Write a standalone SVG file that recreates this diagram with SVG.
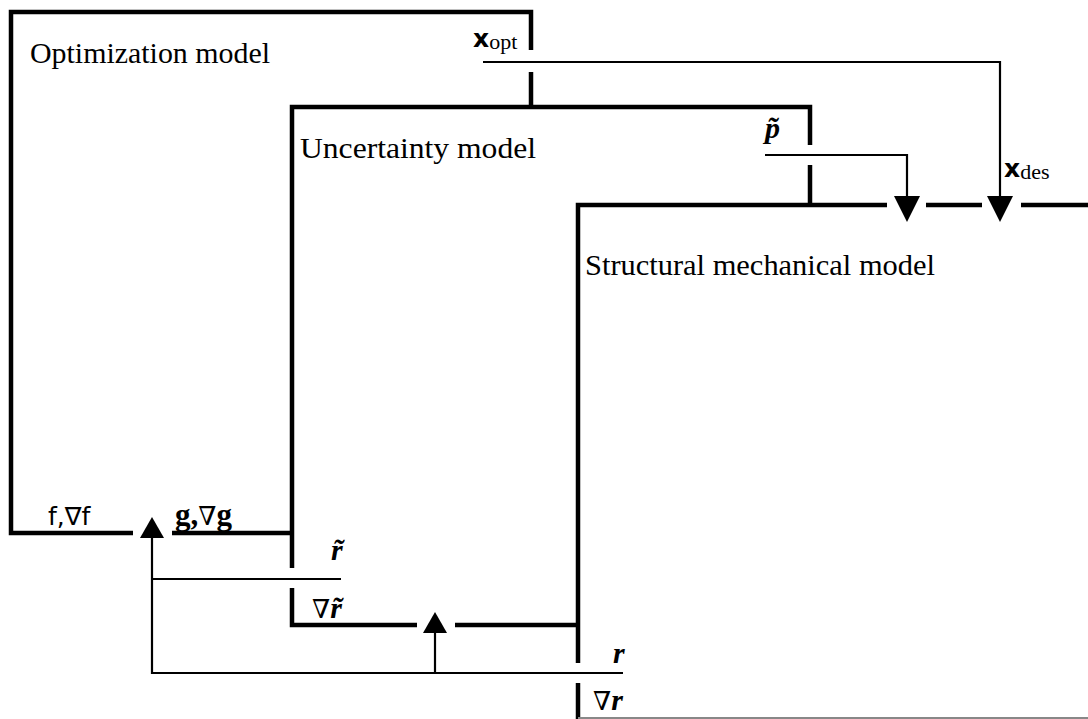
<svg xmlns="http://www.w3.org/2000/svg" width="1088" height="719" viewBox="0 0 1088 719">
  <style>
    .box { fill: none; stroke: #000; stroke-width: 4.5; stroke-linecap: butt; }
    .wire { fill: none; stroke: #000; stroke-width: 2.2; }
    .head { fill: #000; stroke: none; }
    .title { font-family: "Liberation Serif", serif; font-size: 29px; fill: #000; }
    .sym { font-family: "Liberation Serif", serif; font-size: 30px; font-weight: bold; font-style: italic; fill: #000; }
    .vec { font-family: "DejaVu Sans", sans-serif; font-size: 25px; font-weight: bold; fill: #000; }
    .sub { font-family: "Liberation Serif", serif; font-size: 22px; fill: #000; }
    .grad { font-family: "DejaVu Sans", sans-serif; font-size: 25px; font-weight: normal; fill: #000; }
    .gbold { font-family: "Liberation Serif", serif; font-size: 31px; font-weight: bold; fill: #000; }
    .nab { font-family: "DejaVu Serif", serif; font-size: 26px; fill: #000; }
  </style>

  <rect x="0" y="0" width="1088" height="719" fill="#fff"/>

  <!-- Optimization model -->
  <g id="optimization-model">
    <path class="box" d="M531,50 V12 H11 V533 H133"/>
    <path class="box" d="M172,533 H292"/>
    <path class="box" d="M531,72 V107"/>
    <text class="title" x="30" y="63" textLength="240" lengthAdjust="spacingAndGlyphs">Optimization model</text>
    <text x="473" y="47"><tspan class="vec">x</tspan><tspan class="sub" dy="2">opt</tspan></text>
    <text class="grad" x="48" y="525">f,∇f</text>
    <text x="175" y="525"><tspan class="gbold">g,</tspan><tspan class="nab">∇</tspan><tspan class="gbold">g</tspan></text>
  </g>

  <!-- Uncertainty model -->
  <g id="uncertainty-model">
    <path class="box" d="M292,568 V107 H810 V145"/>
    <path class="box" d="M810,165 V205"/>
    <path class="box" d="M292,588 V625 H417"/>
    <path class="box" d="M455,625 H578"/>
    <text class="title" x="300" y="158" textLength="236" lengthAdjust="spacingAndGlyphs">Uncertainty model</text>
    <text class="sym" x="765" y="138">p&#x303;</text>
    <text class="sym" x="331" y="560">r&#x303;</text>
    <text x="312" y="618"><tspan class="nab">∇</tspan><tspan class="sym">r&#x303;</tspan></text>
  </g>

  <!-- Structural mechanical model -->
  <g id="structural-model">
    <path class="box" d="M578,663 V205 H887"/>
    <path class="box" d="M926,205 H982"/>
    <path class="box" d="M1021,205 H1088"/>
    <path class="box" d="M578,683 V719"/>
    <line x1="578" y1="718" x2="1088" y2="718" stroke="#888" stroke-width="2"/>
    <text class="title" x="585" y="275" textLength="350" lengthAdjust="spacingAndGlyphs">Structural mechanical model</text>
    <text x="1004" y="177"><tspan class="vec">x</tspan><tspan class="sub" dy="2">des</tspan></text>
    <text class="sym" x="613" y="663">r</text>
    <text x="593" y="710"><tspan class="nab">∇</tspan><tspan class="sym">r</tspan></text>
  </g>

  <!-- Connectors -->
  <g id="connectors">
    <path class="wire" d="M483,62 H1000 V196"/>
    <polygon class="head" points="987,196 1013,196 1000,222"/>
    <path class="wire" d="M765,155 H907 V196"/>
    <polygon class="head" points="894,196 920,196 907,222"/>
    <path class="wire" d="M152,538 V673 H623"/>
    <polygon class="head" points="140,538 164,538 152,517"/>
    <path class="wire" d="M152,579 H341"/>
    <path class="wire" d="M435,673 V633"/>
    <polygon class="head" points="423,633 447,633 435,612"/>
  </g>
</svg>
